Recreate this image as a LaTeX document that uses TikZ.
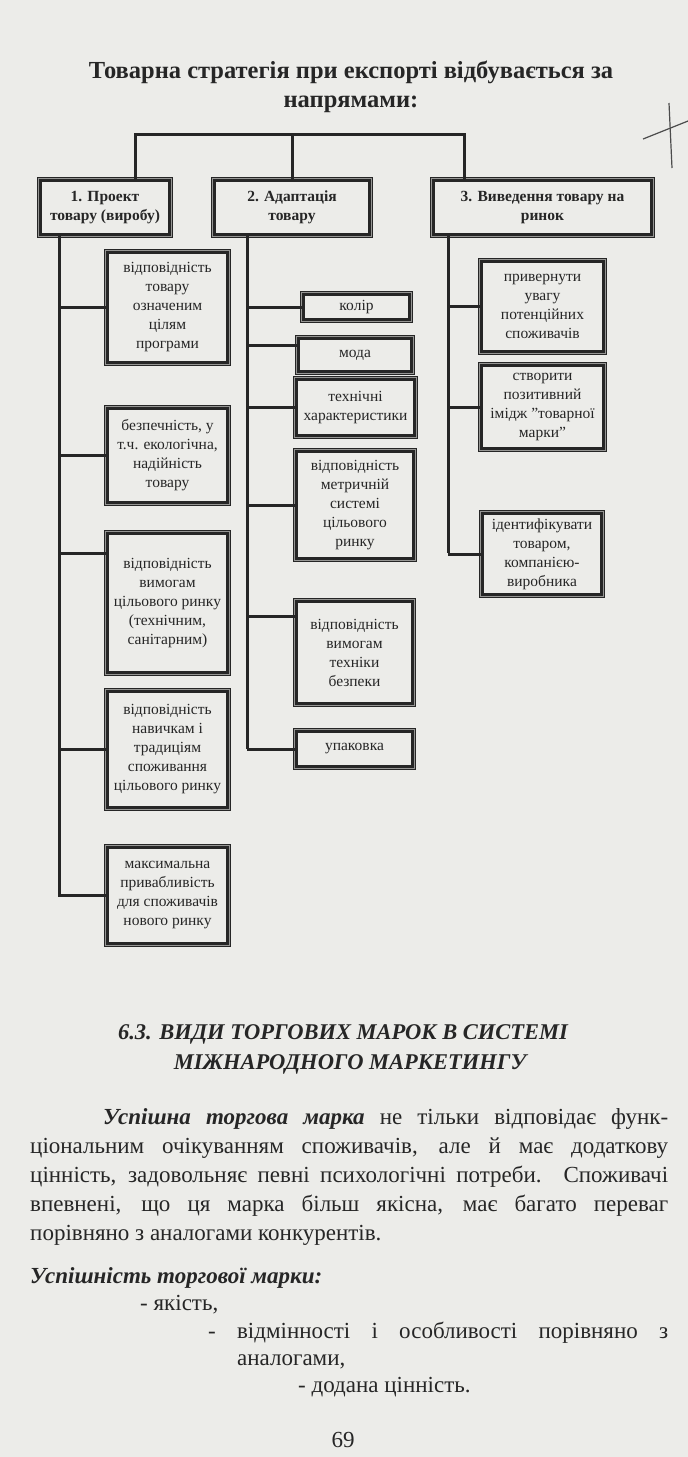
\documentclass[tikz,border=0pt]{standalone}
\usepackage{fontspec}
\setmainfont{Liberation Serif}
\usetikzlibrary{positioning,calc}
\definecolor{PageGray}{RGB}{236,236,233}
\definecolor{InkBlack}{RGB}{38,38,38}
\definecolor{FrameGray}{RGB}{150,150,148}

\begin{document}
\begin{tikzpicture}[x=1pt, y=-1pt,
  frame/.style={rectangle, draw=InkBlack, line width=2.4pt, fill=PageGray, inner sep=1pt,
                align=center, text=InkBlack, font=\fontsize{15.5}{19}\selectfont,
                preaction={draw=InkBlack, line width=7pt},
                preaction={draw=FrameGray, line width=5pt}},
  head/.style={frame, font=\bfseries\fontsize{15.5}{19}\selectfont},
  conn/.style={draw=InkBlack, line width=3pt},
  body/.style={font=\fontsize{23}{29}\selectfont, text=InkBlack, inner sep=0pt, anchor=base west},
  bigtitle/.style={body, anchor=base, font=\bfseries\fontsize{24.5}{29}\selectfont},
  sectitle/.style={body, anchor=base, font=\bfseries\itshape\fontsize{22.5}{29}\selectfont},
  pencil/.style={draw=black!70, line width=1.2pt}
]
\fill[PageGray] (0,0) rectangle (688,1457);
\useasboundingbox (0,0) rectangle (688,1457);

\node[bigtitle] (ttl1) at (351,78) {Товарна стратегія при експорті відбувається за};
\node[bigtitle] (ttl2) at (351,107) {напрямами:};

\node[head, minimum width=129pt, minimum height=54pt] (H1) at (105,207.5) {1. Проект\\товару (виробу)};
\node[head, minimum width=155pt, minimum height=54pt] (H2) at (292,207.5) {2. Адаптація\\товару};
\node[head, minimum width=218pt, minimum height=54pt] (H3) at (542.5,207.5) {3. Виведення товару на\\ринок};

\node[frame, minimum width=120pt, minimum height=110pt] (A1) at (167.5,307.5) {відповідність\\товару\\означеним\\цілям\\програми};
\node[frame, minimum width=120pt, minimum height=94pt] (A2) at (167.5,455.5) {безпечність, у\\т.ч. екологічна,\\надійність\\товару};
\node[frame, minimum width=120pt, minimum height=139pt] (A3) at (167.5,603) {відповідність\\вимогам\\цільового ринку\\(технічним,\\санітарним)};
\node[frame, minimum width=120pt, minimum height=116pt] (A4) at (167.5,749.5) {відповідність\\навичкам і\\традиціям\\споживання\\цільового ринку};
\node[frame, minimum width=120pt, minimum height=96pt] (A5) at (167.5,895.5) {максимальна\\привабливість\\для споживачів\\нового ринку};

\node[frame, minimum width=106pt, minimum height=25pt] (C1) at (356.5,307) {колір};
\node[frame, minimum width=113pt, minimum height=33pt] (C2) at (355,355) {мода};
\node[frame, minimum width=118pt, minimum height=56pt] (C3) at (355.5,407.5) {технічні\\характеристики};
\node[frame, minimum width=117pt, minimum height=107pt] (C4) at (355,505) {відповідність\\метричній\\системі\\цільового\\ринку};
\node[frame, minimum width=116pt, minimum height=102pt] (C5) at (354.5,652.5) {відповідність\\вимогам\\техніки\\безпеки};
\node[frame, minimum width=116pt, minimum height=35pt] (C6) at (354.5,749) {упаковка};

\node[frame, minimum width=122pt, minimum height=90pt] (B1) at (542.5,306.5) {привернути\\увагу\\потенційних\\споживачів};
\node[frame, minimum width=122pt, minimum height=83pt] (B2) at (542.5,407) {створити\\позитивний\\імідж \symbol{34}товарної\\марки\symbol{34}};
\node[frame, minimum width=119pt, minimum height=81pt] (B3) at (542,554) {ідентифікувати\\товаром,\\компанією-\\виробника};

\coordinate (busL) at (135,134);
\coordinate (busR) at (464,134);
\coordinate (t1) at (59,897);
\coordinate (t2) at (247,749);
\coordinate (t3) at (448,553);

\draw[conn] (H1.north -| busL) -- (busL) -- (busR) -- (H3.north -| busR);
\draw[conn] (H2.north) -- (H2.north |- busL);

\draw[conn] (H1.south -| t1) -- (t1);
\draw[conn] (A1.west) -- (A1.west -| t1);
\draw[conn] (A2.west) -- (A2.west -| t1);
\draw[conn] ([yshift=50pt]A3.west) -- ([yshift=50pt]A3.west -| t1);
\draw[conn] (A4.west) -- (A4.west -| t1);
\draw[conn] (A5.west) -- (A5.west -| t1);

\draw[conn] (H2.south -| t2) -- (t2);
\draw[conn] (C1.west) -- (C1.west -| t2);
\draw[conn] ([yshift=10pt]C2.west) -- ([yshift=10pt]C2.west -| t2);
\draw[conn] (C3.west) -- (C3.west -| t2);
\draw[conn] (C4.west) -- (C4.west -| t2);
\draw[conn] ([yshift=36pt]C5.west) -- ([yshift=36pt]C5.west -| t2);
\draw[conn] (C6.west) -- (C6.west -| t2);

\draw[conn] (H3.south -| t3) -- (t3);
\draw[conn] (B1.west) -- (B1.west -| t3);
\draw[conn] (B2.west) -- (B2.west -| t3);
\draw[conn] (B3.west) -- (B3.west -| t3);

\draw[pencil] (643,139) -- (688,121);
\draw[pencil] (669,103) -- (672,168);

\node[sectitle] (sec1) at (343,1039) {6.3. ВИДИ ТОРГОВИХ МАРОК В СИСТЕМІ};
\node[sectitle] (sec2) at (350,1069) {МІЖНАРОДНОГО МАРКЕТИНГУ};

\node[body] (p1) at (103,1124) {\makebox[565pt][s]{\textbf{\textit{Успішна торгова марка}} не тільки відповідає функ-}};
\node[body] (p2) at (30,1153) {\makebox[638pt][s]{ціональним очікуванням споживачів, але й має додаткову}};
\node[body] (p3) at (30,1182) {\makebox[638pt][s]{цінність, задовольняє певні психологічні потреби. Споживачі}};
\node[body] (p4) at (30,1211) {\makebox[638pt][s]{впевнені, що ця марка більш якісна, має багато переваг}};
\node[body] (p5) at (30,1240) {порівняно з аналогами конкурентів.};

\node[body] (s0) at (30,1283) {\textbf{\textit{Успішність торгової марки:}}};
\node[body] (s1) at (140,1310) {- якість,};
\node[body] (s2) at (208,1338) {\makebox[460pt][s]{- відмінності і особливості порівняно з}};
\node[body] (s3) at (237,1365) {аналогами,};
\node[body] (s4) at (298,1392) {- додана цінність.};
\node[body, anchor=base] (pg) at (343,1447) {69};
\end{tikzpicture}
\end{document}
